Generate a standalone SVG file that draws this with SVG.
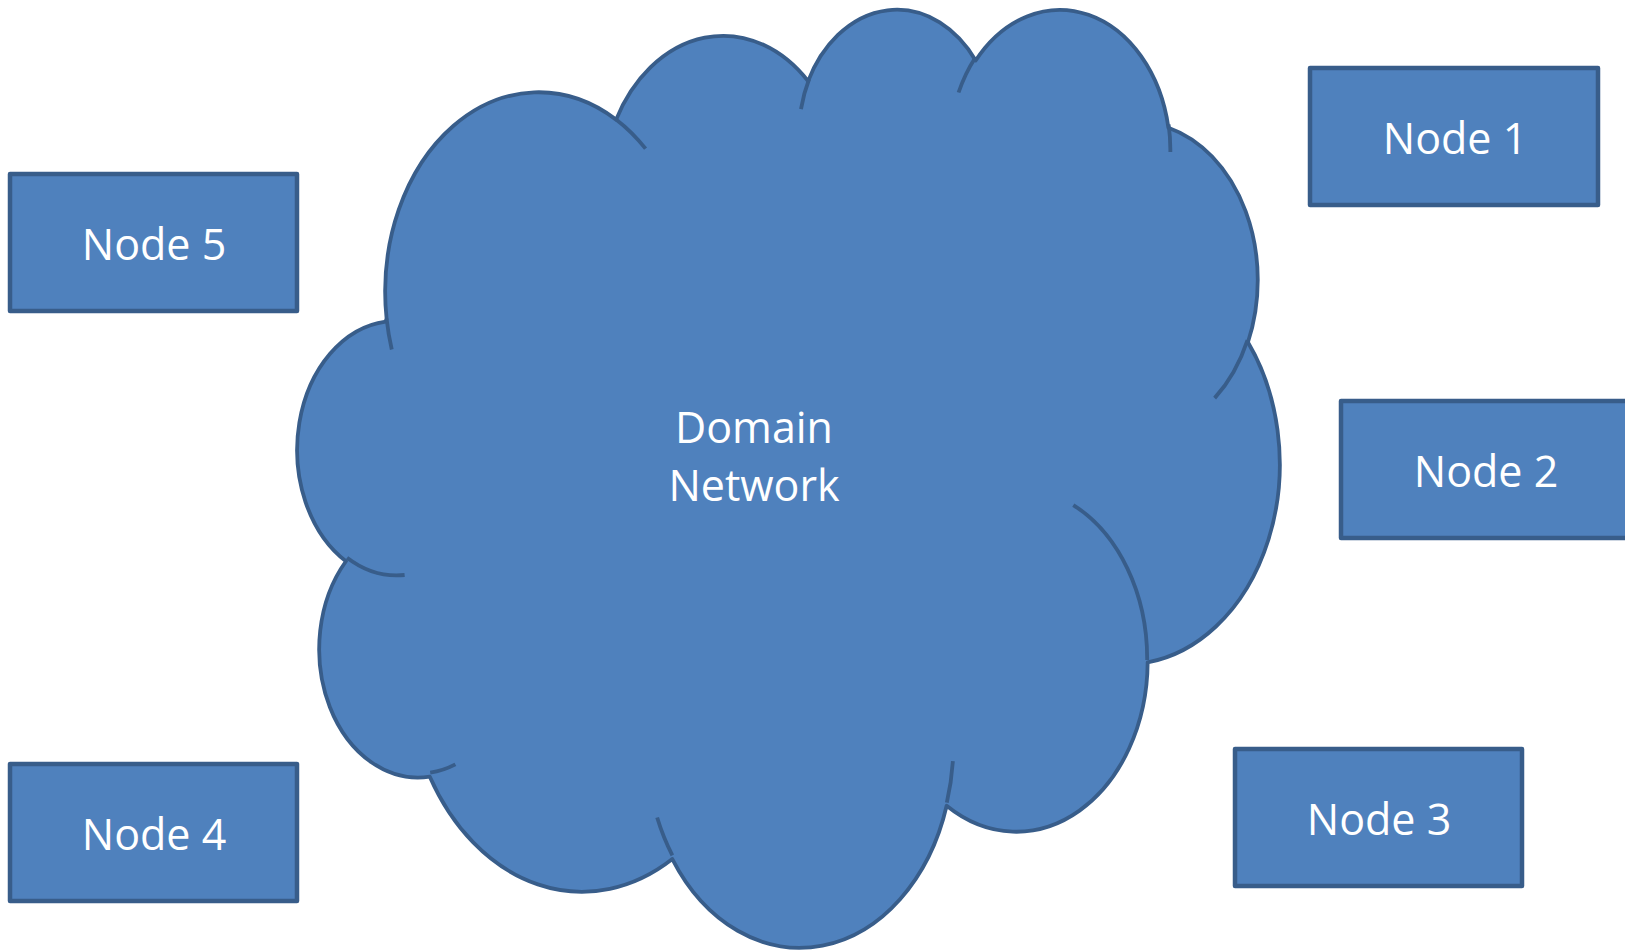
<svg xmlns="http://www.w3.org/2000/svg" width="1625" height="950" viewBox="0 0 1625 950">
  <style>
    .box { fill: #4F81BD; stroke: #385D8A; stroke-width: 4.5; stroke-linejoin: round; }
    .cloud { fill: #4F81BD; stroke: #385D8A; stroke-width: 3.8; stroke-linejoin: round; }
    .cloudline { fill: none; stroke: #385D8A; stroke-width: 3.8; stroke-linecap: butt; }
    .lbl { fill: #FFFFFF; font-family: "Open Sans", "Noto Sans", "Liberation Sans", sans-serif; font-size: 43px; text-anchor: middle; }
  </style>
  <rect x="0" y="0" width="1625" height="950" fill="#FFFFFF"/>
  <g id="connectors"></g>
  <g id="domain-network">
    <g transform="translate(298,6.7) scale(0.022717,0.021710)">
      <path class="cloud" vector-effect="non-scaling-stroke" d="M 3900 14370 A 6753 9190 0 0 1 14004 5201 A 5333 7267 0 0 1 22455 3431 A 4365 5945 0 0 1 29831 2478 A 4857 6595 0 0 1 38316 5573 A 5333 7273 0 0 1 41817 15457 A 6775 9220 0 0 1 37402 30199 A 5785 7867 0 0 1 28553 36808 A 6752 9215 0 0 1 16478 39259 A 7720 10543 0 0 1 5802 35467 A 4360 5918 0 0 1 2111 25544 A 4345 5945 0 0 1 3861 14501 Z"/>
      <path class="cloudline" vector-effect="non-scaling-stroke" d="M 4693 26177 A 4345 5945 0 0 1 2160 25380 M 6928 34899 A 4360 5918 0 0 1 5820 35281 M 16478 39090 A 6752 9215 0 0 1 15810 37350 M 28827 34751 A 6752 9215 0 0 1 28561 36660 M 34129 22954 A 5785 7867 0 0 1 37380 30089 M 41798 15354 A 5333 7273 0 0 1 40350 18030 M 38324 5426 A 4857 6595 0 0 1 38401 6691 M 29078 3952 A 4857 6595 0 0 1 29820 2339 M 22141 4720 A 4365 5945 0 0 1 22500 3331 M 14000 5192 A 6753 9190 0 0 1 15300 6540 M 4127 15789 A 6753 9190 0 0 1 3900 14370"/>
    </g>
    <text class="lbl" x="754" y="443">Domain</text>
    <text class="lbl" x="754" y="501">Network</text>
  </g>
  <g id="node1">
    <rect class="box" x="1310" y="68" width="288" height="137"/>
    <text class="lbl" x="1455" y="154">Node 1</text>
  </g>
  <g id="node2">
    <rect class="box" x="1341" y="401" width="288" height="137"/>
    <text class="lbl" x="1486" y="487">Node 2</text>
  </g>
  <g id="node3">
    <rect class="box" x="1235" y="749" width="287" height="137"/>
    <text class="lbl" x="1379" y="835">Node 3</text>
  </g>
  <g id="node4">
    <rect class="box" x="10" y="764" width="287" height="137"/>
    <text class="lbl" x="154" y="850">Node 4</text>
  </g>
  <g id="node5">
    <rect class="box" x="10" y="174" width="287" height="137"/>
    <text class="lbl" x="154" y="260">Node 5</text>
  </g>
</svg>
